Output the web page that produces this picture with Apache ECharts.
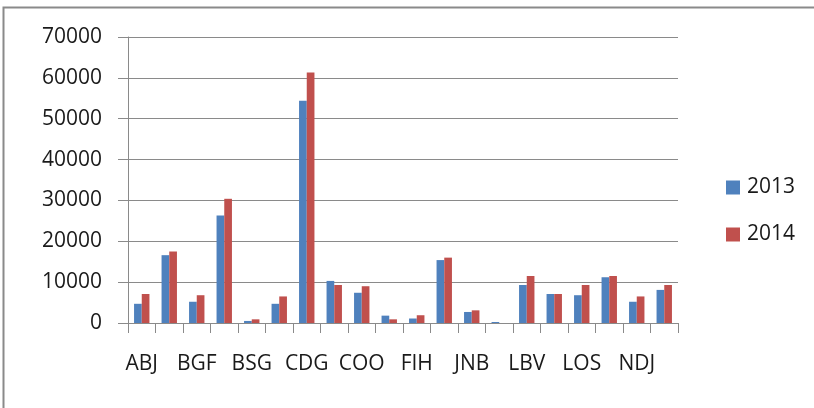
<!DOCTYPE html>
<html>
<head>
<meta charset="utf-8">
<script src="https://cdn.jsdelivr.net/npm/echarts@6/dist/echarts.min.js"></script>
<style>html,body{margin:0;padding:0;background:#fff;}#c{width:814px;height:408px;}</style>
</head>
<body>
<div id="c"></div>
<script>
const categories = ['ABJ','ACC','BGF','BKO','BSG','BZV','CDG','CKY','COO','DLA','FIH','GOM','JNB','LAD','LBV','LFW','LOS','MRU','NDJ','NSI'];
const series2013 = [4700,16600,5200,26300,500,4700,54400,10300,7400,1800,1100,15400,2700,250,9300,7100,6800,11200,5200,8100];
const series2014 = [7100,17500,6800,30400,900,6500,61300,9300,9000,900,1900,16000,3100,0,11500,7100,9300,11500,6500,9300];
const seriesNames = ['2013','2014'];
const yTicks = {min:0, max:70000, interval:10000};

const chart = echarts.init(document.getElementById('c'), null, {renderer:'canvas'});
const font = '"Open Sans", sans-serif';
chart.setOption({
  animation:false,
  backgroundColor:'#fff',
  graphic:[{type:'rect',shape:{x:3.5,y:7.5,width:900,height:500},style:{fill:'none',stroke:'#8a8a8a',lineWidth:2},silent:true}],
  grid:{left:128,right:136,top:37,bottom:85,containLabel:false},
  legend:{
    orient:'vertical', left:721, top:172, itemWidth:14, itemHeight:14, itemGap:26,
    icon:'rect',
    textStyle:{fontFamily:font,fontSize:21,color:'#1a1a1a',padding:[0,0,0,2]},
    data:seriesNames
  },
  xAxis:{
    type:'category', data:categories,
    axisLine:{lineStyle:{color:'#8a8a8a',width:1}},
    axisTick:{show:true,interval:0,length:10,lineStyle:{color:'#8a8a8a'}},
    axisLabel:{interval:1,margin:31,fontFamily:font,fontSize:21,color:'#1a1a1a'}
  },
  yAxis:{
    type:'value', min:yTicks.min, max:yTicks.max, interval:yTicks.interval,
    axisLine:{show:true,lineStyle:{color:'#8a8a8a',width:1}},
    axisTick:{show:true,length:10,lineStyle:{color:'#8a8a8a'}},
    axisLabel:{margin:26,fontFamily:font,fontSize:21,color:'#1a1a1a',formatter:function(v){return String(v);}},
    splitLine:{lineStyle:{color:'#8a8a8a',width:1}}
  },
  series:[
    {name:seriesNames[0],type:'bar',data:series2013,barGap:'0%',barCategoryGap:'44%',itemStyle:{color:'#4F81BD'}},
    {name:seriesNames[1],type:'bar',data:series2014,barGap:'0%',barCategoryGap:'44%',itemStyle:{color:'#C0504D'}}
  ]
});
</script>
</body>
</html>
